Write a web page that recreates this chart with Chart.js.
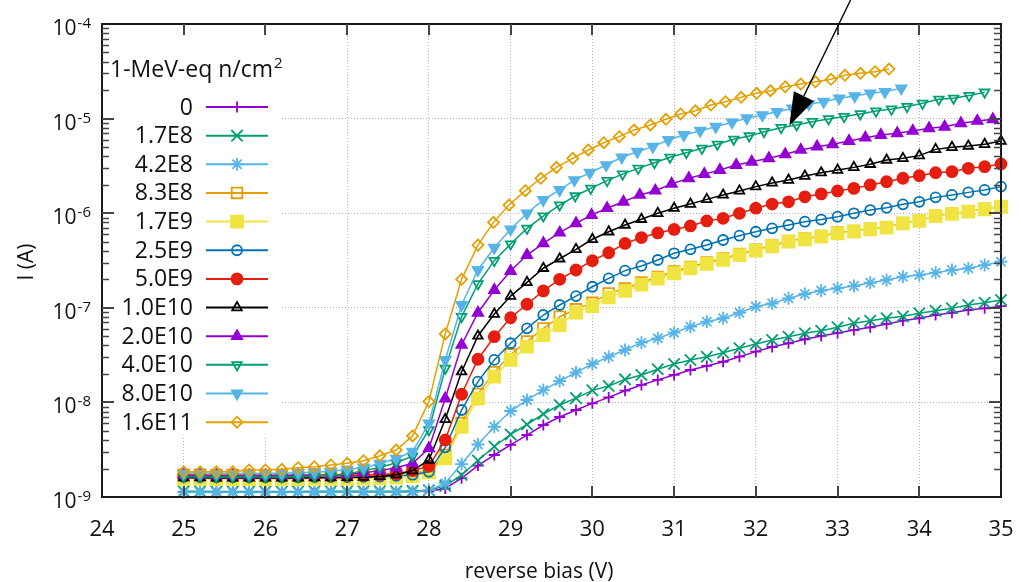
<!DOCTYPE html>
<html>
<head>
<meta charset="utf-8">
<script src="https://cdn.jsdelivr.net/npm/chart.js@4.4.0/dist/chart.umd.min.js"></script>
<style>
  html, body { margin: 0; padding: 0; background: #fff; }
  #wrap { width: 1021px; height: 582px; }
</style>
</head>
<body>
<div id="wrap"><canvas id="myChart" width="1021" height="582"></canvas></div>
<script>
// reverse bias (V), 0.2 V steps
const V = [25.0, 25.2, 25.4, 25.6, 25.8, 26.0, 26.2, 26.4, 26.6, 26.8,
           27.0, 27.2, 27.4, 27.6, 27.8, 28.0, 28.2, 28.4, 28.6, 28.8,
           29.0, 29.2, 29.4, 29.6, 29.8, 30.0, 30.2, 30.4, 30.6, 30.8,
           31.0, 31.2, 31.4, 31.6, 31.8, 32.0, 32.2, 32.4, 32.6, 32.8,
           33.0, 33.2, 33.4, 33.6, 33.8, 34.0, 34.2, 34.4, 34.6, 34.8, 35.0];

// the high-current series sit a bit left of the nominal steps
const V_20E10 = V.slice(0, 24).concat([29.80, 29.99, 30.18, 30.38, 30.58, 30.77, 30.97, 31.18, 31.37, 31.56,
  31.76, 31.95, 32.16, 32.36, 32.55, 32.75, 32.94, 33.14, 33.34, 33.53, 33.73, 33.92, 34.12, 34.31, 34.51, 34.71, 34.90]);
const V_40E10 = V.slice(0, 24).concat([29.79, 29.98, 30.18, 30.37, 30.56, 30.76, 30.95, 31.15, 31.34, 31.53,
  31.73, 31.92, 32.10, 32.31, 32.50, 32.69, 32.89, 33.08, 33.28, 33.47, 33.66, 33.85, 34.04, 34.24, 34.42, 34.61, 34.80]);
const V_80E10 = V.slice(0, 24).concat([29.78, 29.97, 30.17, 30.36, 30.55, 30.74, 30.93, 31.12, 31.32, 31.51,
  31.71, 31.89, 32.08, 32.26, 32.45, 32.65, 32.83, 33.02, 33.21, 33.40, 33.58, 33.78]);
const V_16E11 = V.slice(0, 19).concat([28.79, 28.98, 29.18, 29.37, 29.56, 29.76, 29.95, 30.14, 30.33, 30.51,
  30.71, 30.90, 31.08, 31.26, 31.45, 31.63, 31.82, 32.01, 32.18, 32.36, 32.55, 32.73, 32.92, 33.09, 33.28, 33.46, 33.63]);

// current (A)
const I_0 = [1.13e-9, 1.13e-9, 1.12e-9, 1.12e-9, 1.12e-9, 1.12e-9, 1.12e-9, 1.12e-9, 1.12e-9, 1.13e-9,
  1.13e-9, 1.13e-9, 1.13e-9, 1.13e-9, 1.14e-9, 1.15e-9, 1.23e-9, 1.58e-9, 2.15e-9, 2.78e-9,
  3.55e-9, 4.52e-9, 5.77e-9, 7.01e-9, 8.31e-9, 9.77e-9, 1.13e-8, 1.33e-8, 1.53e-8, 1.73e-8,
  1.95e-8, 2.20e-8, 2.43e-8, 2.69e-8, 3.04e-8, 3.44e-8, 3.85e-8, 4.22e-8, 4.65e-8, 5.04e-8,
  5.42e-8, 5.82e-8, 6.22e-8, 6.75e-8, 7.31e-8, 7.75e-8, 8.39e-8, 8.87e-8, 9.48e-8, 9.88e-8, 1.04e-7];
const I_17E8 = [1.15e-9, 1.15e-9, 1.14e-9, 1.14e-9, 1.14e-9, 1.14e-9, 1.14e-9, 1.14e-9, 1.15e-9, 1.15e-9,
  1.15e-9, 1.15e-9, 1.15e-9, 1.15e-9, 1.16e-9, 1.18e-9, 1.31e-9, 1.71e-9, 2.43e-9, 3.42e-9,
  4.58e-9, 5.84e-9, 7.54e-9, 9.40e-9, 1.11e-8, 1.34e-8, 1.49e-8, 1.75e-8, 1.95e-8, 2.24e-8,
  2.55e-8, 2.81e-8, 3.04e-8, 3.35e-8, 3.73e-8, 4.14e-8, 4.57e-8, 4.95e-8, 5.37e-8, 5.73e-8,
  6.22e-8, 6.86e-8, 7.31e-8, 7.75e-8, 8.15e-8, 8.75e-8, 9.31e-8, 9.88e-8, 1.07e-7, 1.13e-7, 1.21e-7];
const I_42E8 = [1.12e-9, 1.12e-9, 1.12e-9, 1.12e-9, 1.12e-9, 1.12e-9, 1.12e-9, 1.12e-9, 1.12e-9, 1.12e-9,
  1.12e-9, 1.12e-9, 1.12e-9, 1.12e-9, 1.13e-9, 1.18e-9, 1.40e-9, 2.23e-9, 3.59e-9, 5.53e-9,
  8.11e-9, 1.06e-8, 1.35e-8, 1.68e-8, 2.07e-8, 2.55e-8, 3.04e-8, 3.58e-8, 4.28e-8, 4.76e-8,
  5.46e-8, 6.31e-8, 7.13e-8, 7.75e-8, 8.87e-8, 1.03e-7, 1.11e-7, 1.26e-7, 1.40e-7, 1.52e-7,
  1.61e-7, 1.70e-7, 1.84e-7, 1.97e-7, 2.13e-7, 2.22e-7, 2.35e-7, 2.51e-7, 2.62e-7, 2.83e-7, 3.07e-7];
const I_83E8 = [1.72e-9, 1.72e-9, 1.71e-9, 1.71e-9, 1.71e-9, 1.71e-9, 1.71e-9, 1.71e-9, 1.72e-9, 1.72e-9,
  1.72e-9, 1.73e-9, 1.74e-9, 1.76e-9, 1.80e-9, 1.88e-9, 2.78e-9, 6.05e-9, 1.23e-8, 2.09e-8,
  3.21e-8, 4.41e-8, 6.04e-8, 8.05e-8, 9.64e-8, 1.13e-7, 1.42e-7, 1.60e-7, 1.85e-7, 2.12e-7,
  2.42e-7, 2.71e-7, 3.01e-7, 3.32e-7, 3.71e-7, 4.11e-7, 4.56e-7, 5.10e-7, 5.40e-7, 5.75e-7,
  6.25e-7, 6.50e-7, 6.85e-7, 7.10e-7, 7.90e-7, 8.35e-7, 9.40e-7, 9.90e-7, 1.05e-6, 1.11e-6, 1.18e-6];
const I_17E9 = [1.56e-9, 1.56e-9, 1.55e-9, 1.55e-9, 1.55e-9, 1.55e-9, 1.55e-9, 1.55e-9, 1.56e-9, 1.56e-9,
  1.56e-9, 1.57e-9, 1.58e-9, 1.60e-9, 1.66e-9, 1.82e-9, 2.56e-9, 5.53e-9, 1.10e-8, 1.87e-8,
  2.81e-8, 3.88e-8, 5.15e-8, 6.58e-8, 8.91e-8, 1.04e-7, 1.29e-7, 1.51e-7, 1.76e-7, 2.03e-7,
  2.32e-7, 2.62e-7, 2.92e-7, 3.22e-7, 3.61e-7, 4.02e-7, 4.47e-7, 5.00e-7, 5.30e-7, 5.65e-7,
  6.14e-7, 6.41e-7, 6.76e-7, 7.03e-7, 7.82e-7, 8.28e-7, 9.33e-7, 9.82e-7, 1.04e-6, 1.10e-6, 1.17e-6];
const I_25E9 = [1.62e-9, 1.62e-9, 1.61e-9, 1.61e-9, 1.61e-9, 1.61e-9, 1.61e-9, 1.61e-9, 1.62e-9, 1.62e-9,
  1.62e-9, 1.63e-9, 1.64e-9, 1.67e-9, 1.72e-9, 1.85e-9, 3.35e-9, 8.31e-9, 1.66e-8, 2.81e-8,
  4.22e-8, 6.07e-8, 8.39e-8, 1.07e-7, 1.33e-7, 1.67e-7, 2.05e-7, 2.47e-7, 2.77e-7, 3.20e-7,
  3.77e-7, 4.15e-7, 4.61e-7, 5.21e-7, 5.78e-7, 6.37e-7, 6.92e-7, 7.50e-7, 8.13e-7, 8.57e-7,
  9.18e-7, 9.98e-7, 1.08e-6, 1.14e-6, 1.24e-6, 1.32e-6, 1.47e-6, 1.56e-6, 1.66e-6, 1.76e-6, 1.91e-6];
const I_50E9 = [1.68e-9, 1.68e-9, 1.67e-9, 1.67e-9, 1.67e-9, 1.67e-9, 1.67e-9, 1.67e-9, 1.68e-9, 1.68e-9,
  1.69e-9, 1.70e-9, 1.72e-9, 1.76e-9, 1.90e-9, 2.12e-9, 4.01e-9, 1.22e-8, 2.86e-8, 4.95e-8,
  7.85e-8, 1.09e-7, 1.51e-7, 2.00e-7, 2.51e-7, 3.15e-7, 3.82e-7, 4.79e-7, 5.53e-7, 6.18e-7,
  6.73e-7, 7.33e-7, 8.28e-7, 8.83e-7, 9.98e-7, 1.13e-6, 1.25e-6, 1.32e-6, 1.49e-6, 1.60e-6,
  1.72e-6, 1.83e-6, 1.99e-6, 2.15e-6, 2.34e-6, 2.49e-6, 2.68e-6, 2.75e-6, 2.98e-6, 3.10e-6, 3.31e-6];
const I_10E10 = [1.60e-9, 1.60e-9, 1.59e-9, 1.59e-9, 1.59e-9, 1.59e-9, 1.59e-9, 1.59e-9, 1.60e-9, 1.60e-9,
  1.61e-9, 1.62e-9, 1.65e-9, 1.72e-9, 1.90e-9, 2.46e-9, 6.62e-9, 2.11e-8, 5.04e-8, 8.59e-8,
  1.33e-7, 1.86e-7, 2.62e-7, 3.30e-7, 4.15e-7, 5.30e-7, 6.37e-7, 7.50e-7, 8.63e-7, 9.98e-7,
  1.13e-6, 1.25e-6, 1.40e-6, 1.56e-6, 1.72e-6, 1.91e-6, 2.09e-6, 2.24e-6, 2.47e-6, 2.68e-6,
  2.86e-6, 3.05e-6, 3.29e-6, 3.65e-6, 3.80e-6, 4.06e-6, 4.73e-6, 4.97e-6, 5.13e-6, 5.35e-6, 5.79e-6];
const I_20E10 = [1.70e-9, 1.70e-9, 1.69e-9, 1.69e-9, 1.69e-9, 1.69e-9, 1.69e-9, 1.70e-9, 1.70e-9, 1.71e-9,
  1.74e-9, 1.80e-9, 1.90e-9, 2.04e-9, 2.27e-9, 3.27e-9, 1.10e-8, 4.05e-8, 8.87e-8, 1.54e-7,
  2.45e-7, 3.61e-7, 4.81e-7, 6.22e-7, 7.82e-7, 9.57e-7, 1.13e-6, 1.32e-6, 1.56e-6, 1.73e-6,
  2.04e-6, 2.34e-6, 2.59e-6, 2.86e-6, 3.23e-6, 3.50e-6, 3.80e-6, 4.19e-6, 4.66e-6, 5.05e-6,
  5.35e-6, 5.79e-6, 6.28e-6, 6.71e-6, 7.00e-6, 7.40e-6, 7.89e-6, 8.20e-6, 8.91e-6, 9.44e-6, 9.84e-6];
const I_40E10 = [1.64e-9, 1.64e-9, 1.63e-9, 1.63e-9, 1.63e-9, 1.63e-9, 1.63e-9, 1.64e-9, 1.66e-9, 1.70e-9,
  1.75e-9, 1.90e-9, 2.05e-9, 2.30e-9, 2.70e-9, 5.11e-9, 2.29e-8, 8.05e-8, 1.79e-7, 3.15e-7,
  4.72e-7, 6.92e-7, 9.33e-7, 1.22e-6, 1.52e-6, 1.83e-6, 2.21e-6, 2.59e-6, 2.98e-6, 3.42e-6,
  3.90e-6, 4.36e-6, 4.85e-6, 5.35e-6, 6.04e-6, 6.55e-6, 7.27e-6, 8.02e-6, 8.56e-6, 9.27e-6,
  9.91e-6, 1.05e-5, 1.12e-5, 1.20e-5, 1.26e-5, 1.34e-5, 1.45e-5, 1.60e-5, 1.64e-5, 1.75e-5, 1.90e-5];
const I_80E10 = [1.78e-9, 1.78e-9, 1.77e-9, 1.77e-9, 1.77e-9, 1.78e-9, 1.78e-9, 1.80e-9, 1.83e-9, 1.87e-9,
  1.95e-9, 2.05e-9, 2.25e-9, 2.55e-9, 3.01e-9, 6.01e-9, 2.81e-8, 1.07e-7, 2.51e-7, 4.32e-7,
  6.76e-7, 9.98e-7, 1.38e-6, 1.76e-6, 2.24e-6, 2.68e-6, 3.23e-6, 3.90e-6, 4.47e-6, 5.05e-6,
  5.94e-6, 6.71e-6, 7.45e-6, 8.20e-6, 9.14e-6, 1.01e-5, 1.09e-5, 1.18e-5, 1.28e-5, 1.42e-5,
  1.51e-5, 1.64e-5, 1.73e-5, 1.85e-5, 1.92e-5, 2.09e-5];
const I_16E11 = [1.85e-9, 1.85e-9, 1.85e-9, 1.85e-9, 1.93e-9, 1.93e-9, 1.96e-9, 2.04e-9, 2.09e-9, 2.18e-9,
  2.27e-9, 2.42e-9, 2.73e-9, 3.14e-9, 4.42e-9, 1.02e-8, 5.30e-8, 2.00e-7, 4.60e-7, 8.00e-7,
  1.22e-6, 1.73e-6, 2.34e-6, 3.05e-6, 3.80e-6, 4.66e-6, 5.56e-6, 6.44e-6, 7.57e-6, 8.56e-6,
  9.84e-6, 1.12e-5, 1.21e-5, 1.39e-5, 1.51e-5, 1.68e-5, 1.85e-5, 1.97e-5, 2.17e-5, 2.32e-5,
  2.45e-5, 2.60e-5, 2.87e-5, 3.01e-5, 3.13e-5, 3.34e-5];

const fluences = ['0', '1.7E8', '4.2E8', '8.3E8', '1.7E9', '2.5E9', '5.0E9',
                  '1.0E10', '2.0E10', '4.0E10', '8.0E10', '1.6E11'];
const xValues = [V, V, V, V, V, V, V, V, V_20E10, V_40E10, V_80E10, V_16E11];
const yValues = [I_0, I_17E8, I_42E8, I_83E8, I_17E9, I_25E9, I_50E9, I_10E10, I_20E10, I_40E10, I_80E10, I_16E11];

const xTicks = [24, 25, 26, 27, 28, 29, 30, 31, 32, 33, 34, 35];
const yExps = [-9, -8, -7, -6, -5, -4];

// looks
const colors = ['#9400d3', '#009e73', '#56b4e9', '#e69f00', '#f0e442', '#0072b2',
                '#e51e10', '#000000', '#9400d3', '#009e73', '#56b4e9', '#e69f00'];
const markers = [
  { style: 'cross', r: 5.5, fill: false },
  { style: 'crossRot', r: 8, fill: false },
  { style: 'star', r: 6.5, fill: false },
  { style: 'rect', r: 7.5, fill: false },
  { style: 'rect', r: 8.5, fill: true },
  { style: 'circle', r: 5, fill: false },
  { style: 'circle', r: 5.5, fill: true },
  { style: 'triangle', r: 5.5, fill: false },
  { style: 'triangle', r: 6, fill: true },
  { style: 'triangle', r: 5.5, fill: false, rot: 180 },
  { style: 'triangle', r: 6, fill: true, rot: 180 },
  { style: 'rectRot', r: 5.5, fill: false }
];
const FONT = '"Open Sans", "Noto Sans", sans-serif';
const TEXT = '#111';

const datasets = fluences.map((f, i) => ({
  label: f,
  data: xValues[i].map((x, k) => ({ x: x, y: yValues[i][k] })),
  borderColor: colors[i],
  borderWidth: 1.5,
  pointStyle: markers[i].style,
  pointRadius: markers[i].r,
  pointRotation: markers[i].rot || 0,
  pointBorderColor: colors[i],
  pointBorderWidth: 1.8,
  pointBackgroundColor: markers[i].fill ? colors[i] : 'rgba(0,0,0,0)',
  tension: 0,
  clip: false,
  order: fluences.length - 1 - i
}));

function drawMarker(c, m, color, x, y) {
  const r = m.r;
  c.save();
  c.translate(x, y);
  c.rotate((m.rot || 0) * Math.PI / 180);
  c.strokeStyle = color;
  c.fillStyle = color;
  c.lineWidth = 1.8;
  c.beginPath();
  if (m.style === 'circle') {
    c.arc(0, 0, r, 0, 2 * Math.PI);
  } else if (m.style === 'rect') {
    const s = Math.SQRT1_2 * r;
    c.rect(-s, -s, 2 * s, 2 * s);
  } else if (m.style === 'rectRot') {
    c.moveTo(0, -r); c.lineTo(r, 0); c.lineTo(0, r); c.lineTo(-r, 0); c.closePath();
  } else if (m.style === 'triangle') {
    for (let k = 0; k < 3; k++) {
      const a = k * 2 * Math.PI / 3;
      c[k ? 'lineTo' : 'moveTo'](Math.sin(a) * r, -Math.cos(a) * r);
    }
    c.closePath();
  } else {
    const plus = m.style === 'cross' || m.style === 'star';
    const rot = m.style === 'crossRot' || m.style === 'star';
    if (plus) { c.moveTo(-r, 0); c.lineTo(r, 0); c.moveTo(0, -r); c.lineTo(0, r); }
    if (rot) { const d = r * Math.SQRT1_2; c.moveTo(-d, -d); c.lineTo(d, d); c.moveTo(-d, d); c.lineTo(d, -d); }
  }
  if (m.fill) c.fill();
  c.stroke();
  c.restore();
}

const arrow = { from: [33.16, 1.8e-4], to: [32.41, 8.4e-6] };

const decor = {
  id: 'decor',
  beforeDatasetsDraw(chart) {
    // legend box hides the grid behind it
    const a = chart.chartArea, c = chart.ctx;
    c.save();
    c.fillStyle = '#fff';
    c.fillRect(a.left + 1, a.top + 1, 178, 412);
    c.restore();
  },
  afterDraw(chart) {
    const c = chart.ctx, a = chart.chartArea;
    const xs = chart.scales.x, ys = chart.scales.y;
    c.save();

    // frame
    c.strokeStyle = '#1a1a1a';
    c.lineWidth = 2;
    c.strokeRect(a.left, a.top, a.right - a.left, a.bottom - a.top);

    // ticks
    c.strokeStyle = '#444';
    c.lineWidth = 2;
    c.beginPath();
    xTicks.slice(1, -1).forEach(v => {
      const px = Math.round(xs.getPixelForValue(v));
      c.moveTo(px, a.bottom); c.lineTo(px, a.bottom - 11);
      c.moveTo(px, a.top); c.lineTo(px, a.top + 11);
    });
    yExps.slice(1, -1).forEach(e => {
      const py = Math.round(ys.getPixelForValue(Math.pow(10, e)));
      c.moveTo(a.left, py); c.lineTo(a.left + 12, py);
      c.moveTo(a.right, py); c.lineTo(a.right - 12, py);
    });
    c.stroke();
    c.lineWidth = 1.5;
    c.beginPath();
    yExps.slice(0, -1).forEach(e => {
      for (let m = 2; m <= 9; m++) {
        const py = Math.round(ys.getPixelForValue(m * Math.pow(10, e))) + 0.5;
        c.moveTo(a.left, py); c.lineTo(a.left + 7, py);
        c.moveTo(a.right, py); c.lineTo(a.right - 7, py);
      }
    });
    c.stroke();

    // tick labels
    c.fillStyle = TEXT;
    c.font = '22px ' + FONT;
    c.textAlign = 'center';
    c.textBaseline = 'alphabetic';
    xTicks.forEach(v => c.fillText(String(v), xs.getPixelForValue(v), 536));
    yExps.forEach(e => {
      const py = ys.getPixelForValue(Math.pow(10, e));
      const sup = String(e);
      c.font = '15px ' + FONT;
      const w = c.measureText(sup).width;
      c.textAlign = 'left';
      c.fillText(sup, 91 - w, py + 4);
      c.font = '21px ' + FONT;
      c.textAlign = 'right';
      c.fillText('10', 90 - w, py + 11);
    });

    // axis titles
    c.font = '21px ' + FONT;
    c.textAlign = 'center';
    c.fillText('reverse bias (V)', 539, 578);
    c.save();
    c.translate(27, 262);
    c.rotate(-Math.PI / 2);
    c.textBaseline = 'middle';
    c.fillText('I (A)', 0, 0);
    c.restore();

    // arrow
    const x0 = xs.getPixelForValue(arrow.from[0]), y0 = ys.getPixelForValue(arrow.from[1]);
    const x1 = xs.getPixelForValue(arrow.to[0]), y1 = ys.getPixelForValue(arrow.to[1]);
    const len = Math.hypot(x1 - x0, y1 - y0), ux = (x1 - x0) / len, uy = (y1 - y0) / len;
    const hl = 33, hw = 11;
    c.strokeStyle = '#000';
    c.fillStyle = '#000';
    c.lineWidth = 1.3;
    c.beginPath();
    c.moveTo(x0, y0);
    c.lineTo(x1 - ux * hl, y1 - uy * hl);
    c.stroke();
    c.beginPath();
    c.moveTo(x1, y1);
    c.lineTo(x1 - ux * hl - uy * hw, y1 - uy * hl + ux * hw);
    c.lineTo(x1 - ux * hl + uy * hw, y1 - uy * hl - ux * hw);
    c.closePath();
    c.fill();

    // legend
    c.fillStyle = TEXT;
    c.font = '23px ' + FONT;
    c.textAlign = 'left';
    c.textBaseline = 'alphabetic';
    const title = '1-MeV-eq n/cm';
    c.fillText(title, 110, 77);
    const tw = c.measureText(title).width;
    c.font = '15px ' + FONT;
    c.fillText('2', 110 + tw + 1, 68);
    c.font = '23px ' + FONT;
    c.textAlign = 'right';
    c.textBaseline = 'middle';
    fluences.forEach((f, i) => {
      const y = 107 + 28.65 * i;
      c.fillStyle = TEXT;
      c.fillText(f, 193, y + 1);
      c.strokeStyle = colors[i];
      c.lineWidth = 2;
      c.beginPath();
      c.moveTo(206, y); c.lineTo(268, y);
      c.stroke();
      drawMarker(c, markers[i], colors[i], 237, y);
    });

    c.restore();
  }
};

const ctx = document.getElementById('myChart').getContext('2d');
const myChart = new Chart(ctx, {
  type: 'line',
  data: { datasets: datasets },
  options: {
    responsive: false,
    animation: false,
    layout: { padding: { left: 0, right: 20, top: 24, bottom: 0 } },
    plugins: { legend: { display: false }, tooltip: { enabled: false } },
    events: [],
    scales: {
      x: {
        type: 'linear',
        min: 24,
        max: 35,
        afterBuildTicks: s => { s.ticks = xTicks.map(v => ({ value: v })); },
        afterFit: s => { s.height = 85; },
        ticks: { display: false },
        grid: { color: '#b5b5b5', lineWidth: 1, drawTicks: false },
        border: { display: false, dash: [1, 2] }
      },
      y: {
        type: 'logarithmic',
        min: 1e-9,
        max: 1e-4,
        afterBuildTicks: s => { s.ticks = yExps.map(e => ({ value: Math.pow(10, e) })); },
        afterFit: s => { s.width = 102; },
        ticks: { display: false },
        grid: { color: '#b5b5b5', lineWidth: 1, drawTicks: false },
        border: { display: false, dash: [1, 2] }
      }
    }
  },
  plugins: [decor]
});
</script>
</body>
</html>
